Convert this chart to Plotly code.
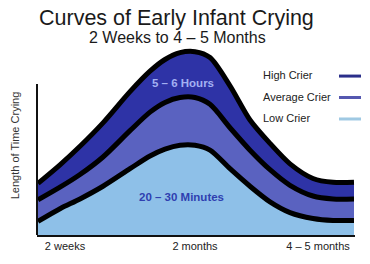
import plotly.graph_objects as go

# Data (relative time position along the axis, and crying level for each crier type)
time_pos = [1, 23, 43, 66, 93, 113, 128, 143, 158, 173, 193, 213, 233, 253, 276, 296, 317]
high_crier = [53, 72, 91, 115, 147, 168, 180, 187, 188, 182, 153, 118, 94, 73, 58, 54, 54]
average_crier = [36, 49, 62, 80, 107, 126, 136, 141, 141, 134, 110, 87, 67, 51, 40, 37, 37]
low_crier = [14, 27, 37, 50, 68, 81, 88, 92, 92, 87, 68, 50, 34, 23, 17, 15, 15]

tick_vals = [28, 158, 281]
tick_text = ["2 weeks", "2 months", "4 – 5 months"]

series_names = ["Low Crier", "Average Crier", "High Crier"]
fill_colors = ["#8ec0e8", "#5a62c0", "#2e33a6"]
legend_colors = ["#9fc9e3", "#5558b0", "#2a2f8a"]

FONT = "Liberation Sans, Arial, sans-serif"

W, H = 370, 264
ML, MR, MT, MB = 37, 15, 40, 24
PW, PH = W - ML - MR, H - MT - MB

def px_to_paper(px, py):
    return (px - ML) / PW, (H - MB - py) / PH

fig = go.Figure()
series = [low_crier, average_crier, high_crier]
for i, (name, vals) in enumerate(zip(series_names, series)):
    fig.add_trace(go.Scatter(
        x=time_pos, y=vals, name=name, mode="lines",
        line=dict(color="black", width=5, shape="spline", smoothing=0.8),
        fill="tozeroy" if i == 0 else "tonexty",
        fillcolor=fill_colors[i],
        showlegend=False, hoverinfo="skip",
    ))

annotations = []

def note(text, px, py, size, color, xanchor="center", angle=0):
    x, y = px_to_paper(px, py)
    annotations.append(dict(text=text, x=x, y=y, xref="paper", yref="paper",
                            xanchor=xanchor, yanchor="middle", textangle=angle,
                            showarrow=False, font=dict(family=FONT, size=size, color=color)))

# Titles
note("Curves of Early Infant Crying", 176, 17, 21.5, "#1a1a1a")
note("2 Weeks to 4 – 5 Months", 177, 37, 16, "#1a1a1a")
# Y title
note("Length of Time Crying", 15, 148, 11, "#333333", angle=-90)
# In-chart labels
note("<b>5 – 6 Hours</b>", 183, 84, 11.5, "#a3b0f2")
note("<b>20 – 30 Minutes</b>", 181, 201, 11.5, "#2f3fb0")

shapes = []
# Legend (manual)
legend_items = [("High Crier", 76, legend_colors[2]), ("Average Crier", 98, legend_colors[1]), ("Low Crier", 120, legend_colors[0])]
for label, py, col in legend_items:
    note(label, 261, py, 11, "#222222", xanchor="left")
    x0, y0 = px_to_paper(339, py + 1)
    x1, _ = px_to_paper(361, py + 1)
    shapes.append(dict(type="line", xref="paper", yref="paper", x0=x0, x1=x1, y0=y0, y1=y0,
                       line=dict(color=col, width=3)))

# Y axis line (shorter than plot area)
_, ytop = px_to_paper(37, 85)
shapes.append(dict(type="line", xref="paper", yref="paper", x0=0, x1=0, y0=0, y1=ytop,
                   line=dict(color="#111111", width=2)))

fig.update_layout(
    width=W, height=H,
    margin=dict(l=ML, r=MR, t=MT, b=MB, pad=0),
    paper_bgcolor="white", plot_bgcolor="white",
    annotations=annotations, shapes=shapes,
    showlegend=False,
    xaxis=dict(range=[0, PW], tickvals=tick_vals, ticktext=tick_text, showgrid=False, zeroline=False,
               showline=True, linecolor="#111111", linewidth=2, ticks="", ticklen=0,
               tickfont=dict(family=FONT, size=11, color="#222222"), fixedrange=True),
    yaxis=dict(range=[0, PH], showgrid=False, zeroline=False, showticklabels=False, showline=False,
               fixedrange=True),
)

fig.write_html("out.html", config={"displayModeBar": False})
